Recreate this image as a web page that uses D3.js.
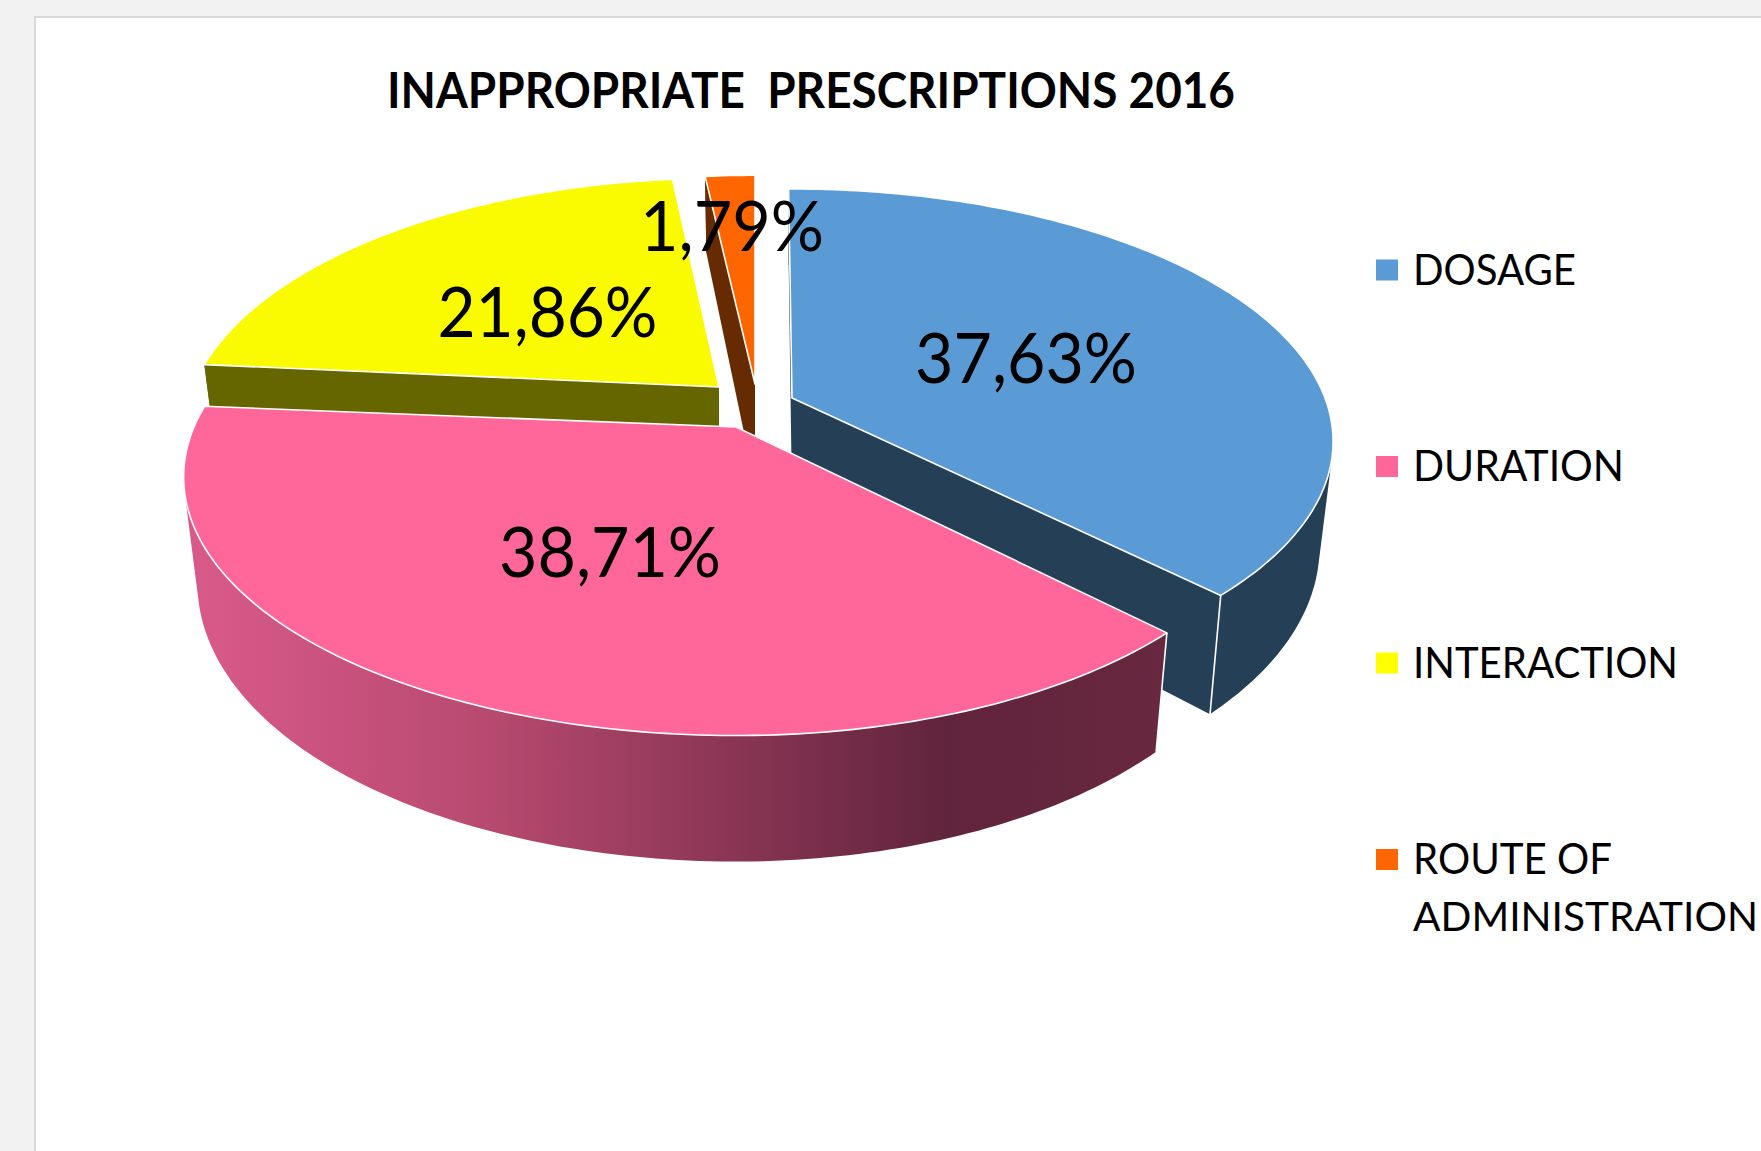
<!DOCTYPE html>
<html><head><meta charset="utf-8">
<script src="https://cdn.jsdelivr.net/npm/d3@7/dist/d3.min.js"></script>
<style>html,body{margin:0;padding:0;background:#f2f2f2;overflow:hidden}svg{display:block}text{font-family:Lato,"Open Sans",sans-serif;fill:#000}</style>
</head><body><svg id="c" width="1761" height="1151"></svg>
<script>
const titleText = "INAPPROPRIATE\u00a0\u00a0PRESCRIPTIONS 2016";
const categories = ["DOSAGE","DURATION","INTERACTION","ROUTE OF ADMINISTRATION"];
const values = [37.63,38.71,21.86,1.79];
const topColors = ["#5B9BD5","#FF6699","#FAFA00","#FF6600"];
const legendColors = ["#5B9BD5","#FF6699","#FFFF00","#FF6600"];
const wallColors = ["#243F56","url(#pinkWall)","#666600","#662B00"];
const sliceApex = [[792,398],[736,427],[719,387],[755,384]];
const sliceRxLeft = [533,542,526,530];
const sliceRxRight = [533,530,530,530];
const sliceRy = [245,249,249,249];
const slicePersp = [.172,.193,.193,.193];
const sliceTurn = [-.0075,0,.007,0];
const labelPos = [[1026,383,222],[610,577,222],[547.5,337,220],[732,251,184]];
const drawOrder = [0,2,3,1];

const W=1761,H=1151;
const svg=d3.select("#c");
svg.append("rect").attr("x",35).attr("y",17).attr("width",W).attr("height",H)
  .attr("fill","#fff").attr("stroke","#d9d9d9").attr("stroke-width",2);

const defs=svg.append("defs");
const g=defs.append("linearGradient").attr("id","pinkWall").attr("gradientUnits","userSpaceOnUse")
  .attr("x1",190).attr("x2",1160).attr("y1",0).attr("y2",0);
[[0,"#D95A8A"],[.3,"#B84A70"],[.55,"#8C3655"],[.78,"#60243C"],[1,"#68283F"]]
  .forEach(s=>g.append("stop").attr("offset",s[0]).attr("stop-color",s[1]));

const pie=d3.pie().sort(null).value(d=>d);
const arcs=pie(values);
const depth0=101,depthV=25,shrink=.975;
function project(i,ang,r,lower){
  const t=ang+sliceTurn[i];
  const u=Math.sin(t)*r,v=Math.cos(t)*r,den=1+slicePersp[i]*v;
  let x=(u<0?sliceRxLeft[i]:sliceRxRight[i])*u/den,y=-sliceRy[i]*v/den;
  if(lower){x*=shrink;y+=depth0-depthV*v;}
  return [sliceApex[i][0]+x,sliceApex[i][1]+y];
}
const line=d3.line().curve(d3.curveLinearClosed);
function arcPts(i,a,lower){
  const n=Math.max(8,Math.ceil((a.endAngle-a.startAngle)*60));
  return d3.range(n+1).map(k=>project(i,a.startAngle+(a.endAngle-a.startAngle)*k/n,1,lower));
}
drawOrder.forEach(i=>{
  const a=arcs[i];
  const topArc=arcPts(i,a,false),botArc=arcPts(i,a,true);
  const c=project(i,0,0,false),cb=project(i,0,0,true);
  const color=wallColors[i];
  [[topArc[0],botArc[0]],[topArc[topArc.length-1],botArc[botArc.length-1]]].forEach(e=>{
    svg.append("path").attr("d",line([c,e[0],e[1],cb])).attr("fill",i==1?"#60243C":color);
  });
  const wallD=d3.range(topArc.length-1).map(k=>{
    const q=[topArc[k],topArc[k+1],botArc[k+1],botArc[k]];
    return line(d3.polygonArea(q)<0?q.reverse():q);
  }).join("");
  svg.append("path").attr("d",wallD).attr("fill",color).attr("fill-rule","nonzero");
  if(i<2){
    const e=i==0?topArc.length-1:0;
    svg.append("path").attr("d",d3.line()([topArc[e],botArc[e]])).attr("stroke","#fff").attr("stroke-width",1.6).attr("fill","none");
  }
  svg.append("path").attr("d",line([c].concat(topArc))).attr("fill",topColors[i])
    .attr("stroke","#fff").attr("stroke-width",1.6).attr("stroke-linejoin","round");
});

const fmt=v=>v.toFixed(2).replace(".",",")+"%";
values.forEach((v,i)=>{
  svg.append("text").attr("x",labelPos[i][0]).attr("y",labelPos[i][1]).attr("text-anchor","middle")
    .attr("font-size",69).attr("textLength",labelPos[i][2]).attr("lengthAdjust","spacingAndGlyphs").text(fmt(v));
});

svg.append("text").attr("x",387).attr("y",108).attr("font-size",50).attr("font-weight",700)
  .attr("textLength",848).attr("lengthAdjust","spacingAndGlyphs").text(titleText);

const legendY=d3.scalePoint().domain(categories).range([270.5,860]);
const legendLines=[["DOSAGE"],["DURATION"],["INTERACTION"],["ROUTE OF","ADMINISTRATION"]];
const legendWidths=[[163],[211],[265],[199,345]];
const legendSizes=[[42],[42],[42],[42,40]];
categories.forEach((c,i)=>{
  const y=legendY(c);
  svg.append("rect").attr("x",1376).attr("y",y-11).attr("width",22).attr("height",21).attr("fill",legendColors[i]);
  legendLines[i].forEach((t,j)=>{
    svg.append("text").attr("x",1413).attr("y",y+14+j*57).attr("font-size",legendSizes[i][j])
      .attr("textLength",legendWidths[i][j]).attr("lengthAdjust","spacingAndGlyphs").text(t);
  });
});
</script></body></html>
